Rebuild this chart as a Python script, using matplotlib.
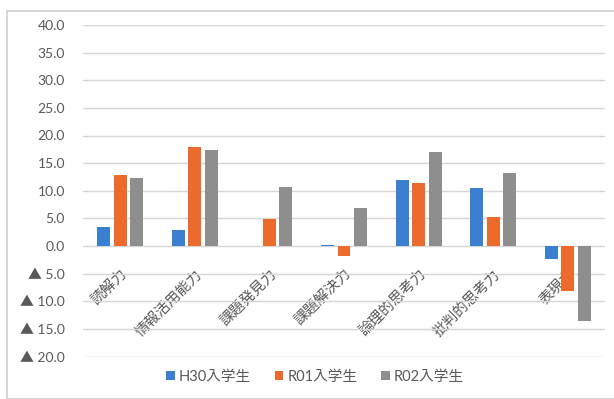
import matplotlib
matplotlib.use("Agg")
import matplotlib.pyplot as plt
import numpy as np
from matplotlib.ticker import FuncFormatter, MultipleLocator
from matplotlib.patches import Rectangle

plt.rcParams['font.family'] = ['Lato', 'Noto Sans CJK JP', 'DejaVu Sans']

categories = ["読解力", "情報活用能力", "課題発見力", "課題解決力", "論理的思考力", "批判的思考力", "表現力"]
series_names = ["H30入学生", "R01入学生", "R02入学生"]
h30 = [3.5, 2.9, 0.0, 0.2, 11.9, 10.5, -2.4]
r01 = [12.8, 18.0, 4.8, -1.9, 11.4, 5.3, -8.2]
r02 = [12.3, 17.4, 10.7, 6.9, 17.1, 13.3, -13.6]
colors = ["#3a7fd0", "#ec6a2c", "#8e8e8e"]

fig = plt.figure(figsize=(6.14, 3.99), dpi=100)
fig.patches.append(Rectangle((7/614, 0), 1, 1 - 11/399, transform=fig.transFigure,
                             fill=False, edgecolor="#d0d0d0", linewidth=1.2, zorder=0))
ax = fig.add_axes([83/614, 1 - 356.5/399, 522/614, (356.5 - 25)/399])

x = np.arange(len(categories))
offs = [-0.221, 0.0, 0.221]
w = 0.174
for vals, off, c, name in zip([h30, r01, r02], offs, colors, series_names):
    ax.bar(x + off, vals, width=w, color=c, label=name, zorder=3)

ax.set_xlim(-0.5, len(categories) - 0.5)
ax.set_ylim(-20, 40)
ax.yaxis.set_major_locator(MultipleLocator(5))
ax.yaxis.set_major_formatter(FuncFormatter(
    lambda v, p: f"{v:.1f}" if v >= 0 else f"▲ {abs(v):.1f}"))
ax.grid(axis='y', color="#d6d6d6", linewidth=1.0, zorder=0)
for s in ax.spines.values():
    s.set_visible(False)
ax.spines['bottom'].set_position(('data', 0))
ax.tick_params(axis='both', length=0, colors="#595959")
ax.tick_params(axis='y', pad=13, labelsize=10)
ax.set_xticks(x)
ax.set_xticklabels(categories, rotation=45, ha='right', va='top',
                   rotation_mode='anchor', fontsize=10.5, color="#595959")
ax.tick_params(axis='x', pad=15)

leg = fig.legend(loc='center', bbox_to_anchor=(315/614, 1 - 377/399), ncol=3,
                 frameon=False, fontsize=10.5, handlelength=0.6, handleheight=0.6,
                 columnspacing=1.6, handletextpad=0.3, labelcolor="#595959")

fig.savefig("out.png", dpi=100)
